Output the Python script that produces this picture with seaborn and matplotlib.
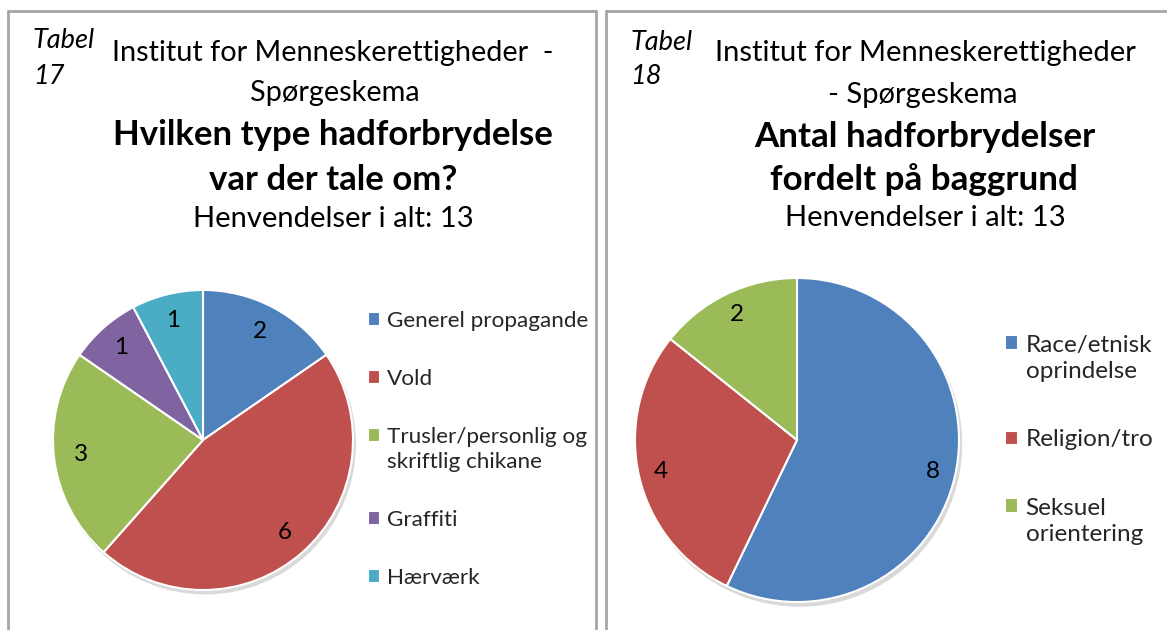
import matplotlib.pyplot as plt
import seaborn as sns
from matplotlib.lines import Line2D
from matplotlib.patches import Circle, Rectangle
from matplotlib.legend_handler import HandlerPatch

sns.set_theme(style='white')
plt.rcParams['font.family'] = ['Lato', 'DejaVu Sans']

# data
typer = ['Generel propagande', 'Vold', 'Trusler/personlig og\nskriftlig chikane', 'Graffiti', 'Hærværk']
typer_antal = [2, 6, 3, 1, 1]
baggrund = ['Race/etnisk\noprindelse', 'Religion/tro', 'Seksuel\norientering']
baggrund_antal = [8, 4, 2]
farver = sns.color_palette(['#4F81BD', '#C0504D', '#9BBB59', '#8064A2', '#4BACC6'])

W, H = 1167, 630
fig = plt.figure(figsize=(W / 100, H / 100), dpi=100)


def fx(x):
    return x / W


def fy(y):
    return 1 - y / H


def tekst(x, y, s, **kw):
    fig.text(fx(x), fy(y), s, color='black', va='center', **kw)


def firkant_foerste_linje(linjer):
    # flyt den lille firkant op til første linje i en label med flere linjer
    def f(legend, orig_handle, xdescent, ydescent, width, height, fontsize):
        skift = 0.65 * fontsize * (linjer - 1)
        return Rectangle((-xdescent, -ydescent + skift), width, height)
    return HandlerPatch(patch_func=f)


def lav_pie(cx, cy, r, vaerdier, navne, dist, leg_x, leg_y, leg_fs, spacing):
    ax = fig.add_axes([fx(cx - r), fy(cy + r), 2 * r / W, 2 * r / H])
    total = sum(vaerdier)
    ax.add_patch(Circle((0.015, -0.025), 1.0, color='#d9d9d9', zorder=0, clip_on=False))
    wedges, _, tal = ax.pie(vaerdier, colors=farver[:len(vaerdier)], startangle=90, counterclock=False,
                            autopct=lambda p: f'{p * total / 100:.0f}', pctdistance=dist,
                            wedgeprops=dict(edgecolor='white', linewidth=1.5),
                            textprops=dict(fontsize=17.5, color='black'))
    for w in wedges:
        w.set_clip_on(False)
    ax.set_xlim(-1, 1)
    ax.set_ylim(-1, 1)
    ax.set_aspect('auto')
    hmap = {w: firkant_foerste_linje(n.count('\n') + 1) for w, n in zip(wedges, navne)}
    leg = ax.legend(wedges, navne, loc='upper left', bbox_to_anchor=(fx(leg_x), fy(leg_y)),
                    bbox_transform=fig.transFigure, frameon=False, fontsize=leg_fs,
                    handlelength=0.55, handleheight=0.55, handletextpad=0.3,
                    labelspacing=spacing, borderpad=0, borderaxespad=0, handler_map=hmap)
    for t in leg.get_texts():
        t.set_linespacing(1.3)
    return ax


# panelrammer
kant = dict(color='#a6a6a6', linewidth=2)
fig.add_artist(Line2D([fx(8), fx(8)], [fy(11), fy(640)], **kant))
fig.add_artist(Line2D([fx(8), fx(596)], [fy(11), fy(11)], **kant))
fig.add_artist(Line2D([fx(596), fx(596)], [fy(11), fy(640)], **kant))
fig.add_artist(Line2D([fx(606), fx(606)], [fy(11), fy(640)], **kant))
fig.add_artist(Line2D([fx(606), fx(1170)], [fy(11), fy(11)], **kant))

# venstre panel
tekst(33, 40, 'Tabel', fontsize=19.5, style='italic', ha='left')
tekst(33, 76, '17', fontsize=19.5, style='italic', ha='left')
tekst(333, 53, 'Institut for Menneskerettigheder  -', fontsize=20.8, ha='center')
tekst(335, 93, 'Spørgeskema', fontsize=20.8, ha='center')
tekst(333, 135, 'Hvilken type hadforbrydelse', fontsize=25, weight='bold', ha='center')
tekst(333, 180, 'var der tale om?', fontsize=25, weight='bold', ha='center')
tekst(333, 219, 'Henvendelser i alt: 13', fontsize=21, ha='center')
lav_pie(203, 440, 150, typer_antal, typer, 0.82, 368, 311, 16.2, 1.69)

# højre panel
tekst(630, 42, 'Tabel', fontsize=19.5, style='italic', ha='left')
tekst(630, 77, '18', fontsize=19.5, style='italic', ha='left')
tekst(925, 53, 'Institut for Menneskerettigheder', fontsize=21, ha='center')
tekst(923, 95, '- Spørgeskema', fontsize=21, ha='center')
tekst(925, 137, 'Antal hadforbrydelser', fontsize=25.2, weight='bold', ha='center')
tekst(924, 180, 'fordelt på baggrund', fontsize=25.2, weight='bold', ha='center')
tekst(925, 218, 'Henvendelser i alt: 13', fontsize=21, ha='center')
lav_pie(797, 440, 162, baggrund_antal, baggrund, 0.86, 1005, 335, 17.5, 1.95)

fig.savefig('out.png', dpi=100, facecolor='white')
